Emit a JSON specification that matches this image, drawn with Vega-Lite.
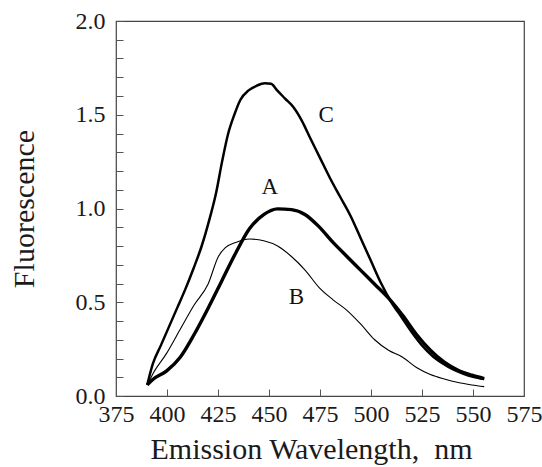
{
  "$schema": "https://vega.github.io/schema/vega-lite/v6.json",
  "autosize": "none",
  "padding": {"left": 116, "top": 21, "right": 18, "bottom": 71},
  "width": 408,
  "height": 375,
  "background": "white",
  "config": {
    "view": {"stroke": "#444444", "strokeWidth": 1.2},
    "font": "Liberation Serif"
  },
  "datasets": {
    "curves": [
      {"series": "C", "wl": 390.3, "f": 0.059},
      {"series": "C", "wl": 393, "f": 0.17},
      {"series": "C", "wl": 397, "f": 0.27},
      {"series": "C", "wl": 401, "f": 0.37},
      {"series": "C", "wl": 405, "f": 0.47},
      {"series": "C", "wl": 409, "f": 0.57},
      {"series": "C", "wl": 413, "f": 0.68},
      {"series": "C", "wl": 417, "f": 0.8},
      {"series": "C", "wl": 421, "f": 0.95},
      {"series": "C", "wl": 424, "f": 1.08},
      {"series": "C", "wl": 427, "f": 1.25},
      {"series": "C", "wl": 430, "f": 1.4},
      {"series": "C", "wl": 433, "f": 1.5},
      {"series": "C", "wl": 436, "f": 1.58},
      {"series": "C", "wl": 440, "f": 1.63},
      {"series": "C", "wl": 444, "f": 1.655},
      {"series": "C", "wl": 448, "f": 1.668},
      {"series": "C", "wl": 451, "f": 1.665},
      {"series": "C", "wl": 454, "f": 1.63},
      {"series": "C", "wl": 458, "f": 1.585},
      {"series": "C", "wl": 462, "f": 1.54},
      {"series": "C", "wl": 466, "f": 1.47},
      {"series": "C", "wl": 470, "f": 1.38},
      {"series": "C", "wl": 475, "f": 1.27},
      {"series": "C", "wl": 480, "f": 1.16},
      {"series": "C", "wl": 485, "f": 1.06},
      {"series": "C", "wl": 490, "f": 0.96},
      {"series": "C", "wl": 495, "f": 0.84},
      {"series": "C", "wl": 500, "f": 0.72},
      {"series": "C", "wl": 505, "f": 0.6},
      {"series": "C", "wl": 510, "f": 0.5},
      {"series": "C", "wl": 515, "f": 0.42},
      {"series": "C", "wl": 520, "f": 0.34},
      {"series": "C", "wl": 525, "f": 0.27},
      {"series": "C", "wl": 530, "f": 0.215},
      {"series": "C", "wl": 535, "f": 0.175},
      {"series": "C", "wl": 540, "f": 0.143},
      {"series": "C", "wl": 545, "f": 0.12},
      {"series": "C", "wl": 550, "f": 0.102},
      {"series": "C", "wl": 555.5, "f": 0.09},
      {"series": "A", "wl": 390.3, "f": 0.059},
      {"series": "A", "wl": 392.9, "f": 0.087},
      {"series": "A", "wl": 399.7, "f": 0.133},
      {"series": "A", "wl": 406.5, "f": 0.207},
      {"series": "A", "wl": 413.3, "f": 0.328},
      {"series": "A", "wl": 420.1, "f": 0.467},
      {"series": "A", "wl": 426.9, "f": 0.615},
      {"series": "A", "wl": 433.7, "f": 0.763},
      {"series": "A", "wl": 440.5, "f": 0.893},
      {"series": "A", "wl": 447.4, "f": 0.967},
      {"series": "A", "wl": 454.2, "f": 0.998},
      {"series": "A", "wl": 461.0, "f": 0.994},
      {"series": "A", "wl": 467.8, "f": 0.967},
      {"series": "A", "wl": 474.6, "f": 0.902},
      {"series": "A", "wl": 481.4, "f": 0.819},
      {"series": "A", "wl": 488.2, "f": 0.744},
      {"series": "A", "wl": 495.0, "f": 0.67},
      {"series": "A", "wl": 501.8, "f": 0.596},
      {"series": "A", "wl": 508.6, "f": 0.522},
      {"series": "A", "wl": 515.5, "f": 0.43},
      {"series": "A", "wl": 522.3, "f": 0.328},
      {"series": "A", "wl": 529.1, "f": 0.244},
      {"series": "A", "wl": 535.9, "f": 0.18},
      {"series": "A", "wl": 542.7, "f": 0.137},
      {"series": "A", "wl": 549.5, "f": 0.111},
      {"series": "A", "wl": 555.5, "f": 0.093},
      {"series": "B", "wl": 390.3, "f": 0.059},
      {"series": "B", "wl": 392.9, "f": 0.115},
      {"series": "B", "wl": 399.7, "f": 0.226},
      {"series": "B", "wl": 406.5, "f": 0.356},
      {"series": "B", "wl": 413.3, "f": 0.485},
      {"series": "B", "wl": 420.1, "f": 0.596},
      {"series": "B", "wl": 425.2, "f": 0.744},
      {"series": "B", "wl": 428.6, "f": 0.791},
      {"series": "B", "wl": 433.7, "f": 0.819},
      {"series": "B", "wl": 440.5, "f": 0.837},
      {"series": "B", "wl": 447.4, "f": 0.828},
      {"series": "B", "wl": 454.2, "f": 0.8},
      {"series": "B", "wl": 461.0, "f": 0.744},
      {"series": "B", "wl": 467.8, "f": 0.67},
      {"series": "B", "wl": 474.6, "f": 0.578},
      {"series": "B", "wl": 481.4, "f": 0.513},
      {"series": "B", "wl": 488.2, "f": 0.457},
      {"series": "B", "wl": 495.0, "f": 0.383},
      {"series": "B", "wl": 501.8, "f": 0.3},
      {"series": "B", "wl": 508.6, "f": 0.244},
      {"series": "B", "wl": 515.5, "f": 0.207},
      {"series": "B", "wl": 522.3, "f": 0.152},
      {"series": "B", "wl": 529.1, "f": 0.115},
      {"series": "B", "wl": 535.9, "f": 0.091},
      {"series": "B", "wl": 542.7, "f": 0.072},
      {"series": "B", "wl": 549.5, "f": 0.059},
      {"series": "B", "wl": 555.5, "f": 0.05}
    ],
    "labels": [
      {"series": "C", "wl": 478, "f": 1.5},
      {"series": "A", "wl": 450.4, "f": 1.115},
      {"series": "B", "wl": 463.5, "f": 0.53}
    ]
  },
  "encoding": {
    "x": {
      "field": "wl", "type": "quantitative",
      "scale": {"domain": [375, 575], "nice": false, "zero": false},
      "axis": {
        "title": "Emission Wavelength,\u00a0 nm",
        "values": [375, 400, 425, 450, 475, 500, 525, 550, 575],
        "grid": false, "domain": false,
        "tickColor": "#555555", "tickSize": -7, "tickWidth": 1,
        "labelFont": "Liberation Serif", "labelFontSize": 24, "labelColor": "#1a1a1a",
        "labelFlush": false, "labelOverlap": false,
        "labelPadding": 13,
        "titleFont": "Liberation Serif", "titleFontSize": 30, "titleFontWeight": "normal", "titleColor": "#1a1a1a",
        "titlePadding": 8,
        "titleX": 195
      }
    },
    "y": {
      "field": "f", "type": "quantitative",
      "scale": {"domain": [0, 2], "nice": false},
      "axis": {
        "title": "Fluorescence",
        "values": [0, 0.1, 0.2, 0.3, 0.4, 0.5, 0.6, 0.7, 0.8, 0.9, 1.0, 1.1, 1.2, 1.3, 1.4, 1.5, 1.6, 1.7, 1.8, 1.9, 2.0],
        "labelExpr": "round(datum.value*10) % 5 == 0 ? format(datum.value, '.1f') : ''",
        "grid": false, "domain": false,
        "tickColor": "#555555", "tickSize": -7, "tickWidth": 1,
        "labelFont": "Liberation Serif", "labelFontSize": 24, "labelColor": "#1a1a1a",
        "labelFlush": false, "labelOverlap": false,
        "labelPadding": 18,
        "titleFont": "Liberation Serif", "titleFontSize": 30, "titleFontWeight": "normal", "titleColor": "#1a1a1a",
        "titlePadding": 36
      }
    }
  },
  "layer": [
    {
      "data": {"name": "curves"},
      "transform": [{"filter": "datum.series == 'B'"}],
      "mark": {"type": "line", "color": "black", "strokeWidth": 1.1, "interpolate": "monotone", "clip": true}
    },
    {
      "data": {"name": "curves"},
      "transform": [{"filter": "datum.series == 'C'"}],
      "mark": {"type": "line", "color": "black", "strokeWidth": 2.5, "interpolate": "monotone", "clip": true}
    },
    {
      "data": {"name": "curves"},
      "transform": [{"filter": "datum.series == 'A'"}],
      "mark": {"type": "line", "color": "black", "strokeWidth": 3.4, "interpolate": "monotone", "clip": true}
    },
    {
      "data": {"name": "labels"},
      "mark": {"type": "text", "font": "Liberation Serif", "fontSize": 23, "color": "#111111"},
      "encoding": {
        "text": {"field": "series", "type": "nominal"}
      }
    }
  ]
}
